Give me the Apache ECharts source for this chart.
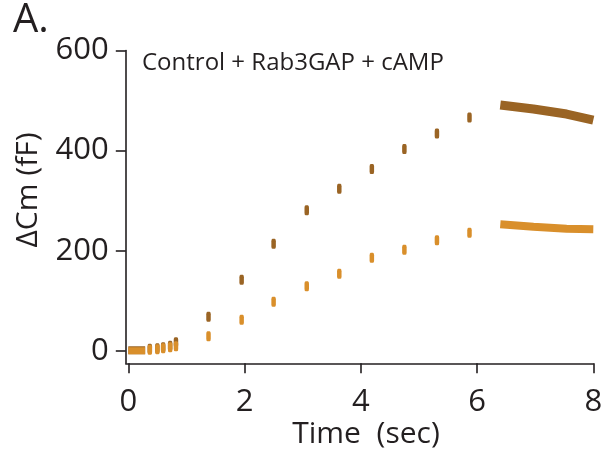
<!DOCTYPE html>
<html>
<head>
<meta charset="utf-8">
<script src="https://cdn.jsdelivr.net/npm/echarts@6/dist/echarts.min.js"></script>
<style>
html,body{margin:0;padding:0;background:#fff;}
#c{width:608px;height:461px;}
</style>
</head>
<body>
<div id="c"></div>
<script>
// ---- data ----
const xTicks = [0, 2, 4, 6, 8];
const yTicks = [0, 200, 400, 600];
// brief sampling windows (snapshots) before the continuous recording
const snapX = [0.37, 0.50, 0.60, 0.72, 0.82, 1.38, 1.95, 2.50, 3.07, 3.63, 4.19, 4.75, 5.31, 5.87];
const darkSnapY = [4, 5, 7, 10, 17, 68, 142, 214, 281, 324, 363, 403, 434, 466];
const orangeSnapY = [2, 3, 5, 7, 9, 29, 62, 98, 129, 154, 186, 202, 221, 236];
// initial baseline segment
const baseX = [0.0, 0.29];
const darkBaseY = [1, 1];
const orangeBaseY = [0, 0];
// continuous recording at the end
const traceX = [6.40, 6.97, 7.54, 8.0];
const darkTraceY = [491, 483, 473, 461];
const orangeTraceY = [253, 248, 244, 243];

const DARK = '#9A6424';
const ORANGE = '#D98F2B';
const INK = '#231F20';
const FONT = 'Open Sans';

const zip = (xs, ys) => xs.map((x, i) => [x, ys[i]]);

const chart = echarts.init(document.getElementById('c'), null, {renderer: 'canvas'});

function lineSeries(xs, ys, color, w) {
  return {
    type: 'line', data: zip(xs, ys), showSymbol: false, symbol: 'none',
    lineStyle: {color: color, width: w, cap: 'butt', opacity: 1}, silent: true, z: 2
  };
}
function snapSeries(ys, color) {
  return {
    type: 'scatter', data: zip(snapX, ys), symbol: 'roundRect', symbolSize: [4.5, 10],
    itemStyle: {color: color, opacity: 1}, silent: true, z: 3
  };
}

chart.setOption({
  animation: false,
  backgroundColor: '#fff',
  grid: {left: 125.8, right: 14.7, top: 50.5, bottom: 97.7, containLabel: false},
  xAxis: {
    type: 'value', min: -0.043, max: 8,
    axisLine: {show: true, onZero: false, lineStyle: {color: INK, width: 1.6}},
    axisTick: {show: true, length: 10, customValues: xTicks, lineStyle: {color: INK, width: 1.6}},
    axisLabel: {customValues: xTicks, margin: 23, color: INK, fontSize: 31, fontFamily: FONT},
    splitLine: {show: false}
  },
  yAxis: {
    type: 'value', min: -25, max: 600,
    axisLine: {show: true, onZero: false, lineStyle: {color: INK, width: 1.6}},
    axisTick: {show: true, length: 10, customValues: yTicks, lineStyle: {color: INK, width: 1.6}},
    axisLabel: {customValues: yTicks, margin: 17, color: INK, fontSize: 31, fontFamily: FONT},
    splitLine: {show: false}
  },
  graphic: [
    {type: 'text', x: 13, y: 21, style: {text: 'A.', fill: INK, font: '40px "Open Sans"', align: 'left', verticalAlign: 'middle'}},
    {type: 'text', x: 142, y: 63, style: {text: 'Control + Rab3GAP + cAMP', fill: INK, font: '24px "Open Sans"', align: 'left', verticalAlign: 'middle'}},
    {type: 'text', x: 28, y: 190, rotation: Math.PI / 2,
      style: {text: 'ΔCm (fF)', fill: INK, font: '30px "Open Sans"', align: 'center', verticalAlign: 'middle'}},
    {type: 'text', x: 366, y: 434,
      style: {text: 'Time  (sec)', fill: INK, font: '30px "Open Sans"', align: 'center', verticalAlign: 'middle'}}
  ],
  series: [
    lineSeries(baseX, darkBaseY, DARK, 8),
    snapSeries(darkSnapY, DARK),
    lineSeries(traceX, darkTraceY, DARK, 9),
    lineSeries(baseX, orangeBaseY, ORANGE, 7),
    snapSeries(orangeSnapY, ORANGE),
    lineSeries(traceX, orangeTraceY, ORANGE, 8)
  ]
});
</script>
</body>
</html>
